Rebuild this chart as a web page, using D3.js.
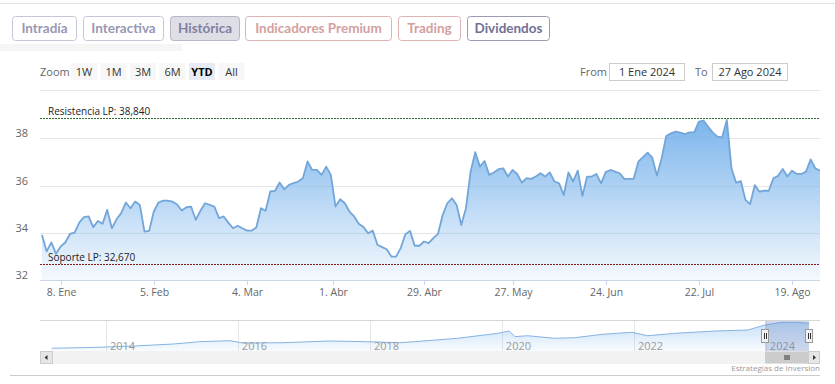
<!DOCTYPE html>
<html><head><meta charset="utf-8">
<script src="https://cdn.jsdelivr.net/npm/d3@7"></script>
<style>body{margin:0;background:#fff;} svg{display:block}</style>
</head><body><svg id="c" width="835" height="384"></svg>
<script>
// ---------- DATA ----------
const tabs = ["Intradía","Interactiva","Histórica","Indicadores Premium","Trading","Dividendos"];
const zoomButtons = ["1W","1M","3M","6M","YTD","All"];
const fromText = "1 Ene 2024", toText = "27 Ago 2024";
const startDate = "2024-01-02", endDate = "2024-08-27";
const holidays = ["2024-01-01","2024-03-29","2024-04-01","2024-05-01"];
const prices = [
 33.91,33.21,33.59,33.11,33.42,33.59,33.95,34.01,34.43,34.66,
 34.69,34.24,34.50,34.38,34.97,34.19,34.57,34.83,35.28,35.04,
 35.32,35.18,34.05,34.08,34.90,35.28,35.36,35.36,35.32,35.20,
 34.94,35.08,35.11,34.55,34.93,35.25,35.18,35.11,34.62,34.69,
 34.43,34.19,34.30,34.19,34.09,34.09,34.22,35.04,34.93,35.75,
 35.77,36.13,35.84,36.03,36.10,36.17,36.31,37.02,36.66,36.66,
 36.45,36.80,36.45,35.11,35.42,35.25,34.90,34.69,34.38,34.24,
 33.98,34.09,33.49,33.39,33.30,32.99,32.99,33.35,33.94,34.08,
 33.45,33.45,33.63,33.56,33.77,33.95,34.75,35.25,35.46,35.18,
 34.33,35.04,36.59,37.41,36.80,37.04,36.45,36.55,36.69,36.73,
 36.38,36.66,36.49,36.12,36.31,36.28,36.38,36.52,36.38,36.56,
 36.17,36.09,35.60,36.56,36.17,36.63,35.56,36.38,36.38,36.49,
 36.09,36.57,36.66,36.59,36.52,36.28,36.28,36.28,37.01,37.20,
 37.39,37.18,36.42,37.15,38.10,38.21,38.28,38.24,38.18,38.25,
 38.25,38.71,38.75,38.49,38.24,38.07,38.04,38.78,36.73,36.12,
 36.19,35.39,35.21,36.02,35.74,35.78,35.78,36.31,36.41,36.70,
 36.38,36.63,36.49,36.49,36.59,37.11,36.73,36.63
];
const tickDates = ["2024-01-08","2024-02-05","2024-03-04","2024-04-01","2024-04-29","2024-05-27","2024-06-24","2024-07-22","2024-08-19"];
const tickLabels = ["8. Ene","5. Feb","4. Mar","1. Abr","29. Abr","27. May","24. Jun","22. Jul","19. Ago"];
const yTicks = [32,34,36,38];
const resistance = 38.84, support = 32.67;
const resistanceLabel = "Resistencia LP: 38,840";
const supportLabel = "Soporte LP: 32,670";
const navDates = ["2013-03-07","2013-11-28","2014-07-08","2015-01-08","2015-06-03","2015-11-17","2016-01-30","2016-09-06","2017-05-22","2017-12-13","2018-06-14","2018-09-06","2019-05-01","2019-12-08","2020-02-10","2020-03-14","2020-05-22","2020-10-20","2021-02-10","2021-07-08","2021-12-20","2022-03-18","2022-08-15","2023-03-26","2023-09-24","2023-12-25","2024-03-28","2024-06-25","2024-08-27"];
const navValues = [3.5,4.8,6.8,9.0,12.0,13.3,10.3,10.7,12.9,12.0,10.7,12.0,16.4,22.8,25.8,18.5,19.7,16.4,17.2,21.5,24.1,19.7,22.8,25.8,27.1,33.5,37.0,37.0,35.8];
const navYears = [2014,2016,2018,2020,2022,2024];
const creditText = "Estrategias de Inversion";

// ---------- SETUP ----------
const svg = d3.select("#c");
const font = "'Open Sans', sans-serif";
const parse = d3.utcParse("%Y-%m-%d"), fmt = d3.utcFormat("%Y-%m-%d");
const days = d3.utcDays(parse(startDate), d3.utcDay.offset(parse(endDate), 1))
  .filter(d => d.getUTCDay() % 6 !== 0 && !holidays.includes(fmt(d)));

const plot = {left: 40, right: 820, top: 95, bottom: 280};
const x = d3.scaleLinear().domain([0, days.length - 1]).range([42, 820]);
const y = d3.scaleLinear().domain([32, 38]).range([280, 138.3]);

function ordIdx(s) {
  const t = parse(s);
  const i = d3.bisector(d => d).left(days, t);
  if (i < days.length && +days[i] === +t) return i;
  return i - 0.5;
}

// top decorative line
svg.append("rect").attr("x",0).attr("y",44).attr("width",182).attr("height",7).attr("fill","#f5f5f5");
svg.append("line").attr("x1",0).attr("x2",835).attr("y1",3.5).attr("y2",3.5).attr("stroke","#e2e2e2");

// ---------- TABS ----------
const tabX = [[12,76],[83,163],[170,239],[245,391],[398,460],[467,549]];
const tabStyle = [
  {fill:"#fff", stroke:"#c6c6d6", text:"#9898b4"},
  {fill:"#fff", stroke:"#c6c6d6", text:"#9898b4"},
  {fill:"#dedee6", stroke:"#b6b6c6", text:"#8080a0"},
  {fill:"#fff", stroke:"#dcb4b4", text:"#d4a0a0"},
  {fill:"#fff", stroke:"#dcb4b4", text:"#d4a0a0"},
  {fill:"#fff", stroke:"#9a9ab2", text:"#707094"}
];
const tg = svg.append("g");
tabs.forEach((t, i) => {
  const [a, b] = tabX[i];
  tg.append("rect").attr("x", a + 0.5).attr("y", 16.5).attr("width", b - a).attr("height", 24)
    .attr("rx", 3).attr("fill", tabStyle[i].fill).attr("stroke", tabStyle[i].stroke);
  tg.append("text").attr("x", (a + b) / 2 + 0.5).attr("y", 33).attr("text-anchor", "middle")
    .attr("font-family", "Lato, sans-serif").attr("font-weight", 700).attr("font-size", 13.5)
    .attr("fill", tabStyle[i].text).text(t);
});

// ---------- RANGE SELECTOR ----------
svg.append("text").attr("x", 40).attr("y", 76).attr("font-family", font).attr("font-size", 11)
  .attr("fill", "#666").text("Zoom");
zoomButtons.forEach((b, i) => {
  const bx = 71 + i * 29.5;
  const sel = b === "YTD";
  svg.append("rect").attr("x", bx).attr("y", 63).attr("width", 26).attr("height", 17)
    .attr("fill", sel ? "#e6ebf5" : "#f7f7f7");
  svg.append("text").attr("x", bx + 13).attr("y", 75.5).attr("text-anchor", "middle")
    .attr("font-family", font).attr("font-size", 11).attr("font-weight", sel ? 700 : 400)
    .attr("fill", sel ? "#000" : "#333").text(b);
});
svg.append("text").attr("x", 580).attr("y", 76).attr("font-family", font).attr("font-size", 11)
  .attr("fill", "#666").text("From");
svg.append("rect").attr("x", 609.5).attr("y", 63.5).attr("width", 75).attr("height", 17)
  .attr("fill", "#fff").attr("stroke", "#ccc");
svg.append("text").attr("x", 647).attr("y", 76).attr("text-anchor", "middle").attr("font-family", font)
  .attr("font-size", 11).attr("fill", "#333").text(fromText);
svg.append("text").attr("x", 695).attr("y", 76).attr("font-family", font).attr("font-size", 11)
  .attr("fill", "#666").text("To");
svg.append("rect").attr("x", 712.5).attr("y", 63.5).attr("width", 75).attr("height", 17)
  .attr("fill", "#fff").attr("stroke", "#ccc");
svg.append("text").attr("x", 750).attr("y", 76).attr("text-anchor", "middle").attr("font-family", font)
  .attr("font-size", 11).attr("fill", "#333").text(toText);
svg.append("line").attr("x1", 40).attr("x2", 820).attr("y1", 90.5).attr("y2", 90.5).attr("stroke", "#e6e6e6");

// ---------- MAIN PLOT ----------
const defs = svg.append("defs");
defs.append("clipPath").attr("id", "clip").append("rect")
  .attr("x", plot.left).attr("y", plot.top).attr("width", plot.right - plot.left).attr("height", plot.bottom - plot.top);
const grad = defs.append("linearGradient").attr("id", "ag").attr("gradientUnits", "userSpaceOnUse")
  .attr("x1", 0).attr("x2", 0).attr("y1", y(d3.max(prices))).attr("y2", 280);
grad.append("stop").attr("offset", 0).attr("stop-color", "#7cb5ec").attr("stop-opacity", 1);
grad.append("stop").attr("offset", 1).attr("stop-color", "#7cb5ec").attr("stop-opacity", 0.08);

// grid
svg.append("g").selectAll("line").data(yTicks.filter(v => v !== 32)).join("line")
  .attr("x1", plot.left).attr("x2", plot.right)
  .attr("y1", d => Math.round(y(d)) + 0.5).attr("y2", d => Math.round(y(d)) + 0.5)
  .attr("stroke", "#e6e6e6");
svg.append("g").selectAll("text").data(yTicks).join("text")
  .attr("x", 28).attr("y", d => y(d) - 1).attr("text-anchor", "end")
  .attr("font-family", font).attr("font-size", 11).attr("fill", "#666").text(d => d);

const pg = svg.append("g").attr("clip-path", "url(#clip)");
const area = d3.area().x((d, i) => x(i)).y0(280).y1(d => y(d));
const line = d3.line().x((d, i) => x(i)).y(d => y(d));
pg.append("path").datum(prices).attr("d", area).attr("fill", "url(#ag)");
pg.append("path").datum(prices).attr("d", line).attr("fill", "none")
  .attr("stroke", "#72a6d9").attr("stroke-width", 1.8).attr("stroke-linejoin", "round");

// x axis
svg.append("line").attr("x1", plot.left).attr("x2", plot.right).attr("y1", 280.5).attr("y2", 280.5).attr("stroke", "#ccd6eb");
const xt = svg.append("g");
tickDates.forEach((d, i) => {
  const px = Math.round(x(ordIdx(d))) + 0.5;
  xt.append("line").attr("x1", px).attr("x2", px).attr("y1", 280).attr("y2", 285).attr("stroke", "#ccd6eb");
  xt.append("text").attr("x", px).attr("y", 296).attr("text-anchor", "middle")
    .attr("font-family", font).attr("font-size", 10.5).attr("fill", "#666").text(tickLabels[i]);
});

// resistance / support
svg.append("line").attr("x1", plot.left).attr("x2", plot.right)
  .attr("y1", Math.round(y(resistance)) + 0.5).attr("y2", Math.round(y(resistance)) + 0.5)
  .attr("stroke", "#2f6b2f").attr("stroke-dasharray", "2,1");
svg.append("text").attr("x", 48).attr("y", y(resistance) - 3).attr("font-family", font)
  .attr("font-size", 10).attr("fill", "#222").text(resistanceLabel);
svg.append("line").attr("x1", plot.left).attr("x2", plot.right)
  .attr("y1", Math.round(y(support)) + 0.5).attr("y2", Math.round(y(support)) + 0.5)
  .attr("stroke", "#8b1a1a").attr("stroke-dasharray", "2,1");
svg.append("text").attr("x", 48).attr("y", y(support) - 3).attr("font-family", font)
  .attr("font-size", 10).attr("fill", "#222").text(supportLabel);

// ---------- NAVIGATOR ----------
const nav = {top: 320, bottom: 351};
const xn = d3.scaleUtc().domain([parse("2013-01-01"), parse("2025-01-01")]).range([40, 832]);
const yn = d3.scaleLinear().domain([0, 40]).range([351, 320]);
const ng = svg.append("g");
navYears.forEach(yr => {
  const px = Math.round(xn(parse(yr + "-01-01"))) + 0.5;
  ng.append("line").attr("x1", px).attr("x2", px).attr("y1", nav.top).attr("y2", nav.bottom).attr("stroke", "#e6e6e6");
});
const navData = navDates.map((d, i) => ({t: parse(d), v: navValues[i]}));
const ngrad = defs.append("linearGradient").attr("id", "ng").attr("gradientUnits", "userSpaceOnUse")
  .attr("x1", 0).attr("x2", 0).attr("y1", 320).attr("y2", 351);
ngrad.append("stop").attr("offset", 0).attr("stop-color", "#7cb5ec").attr("stop-opacity", 0.45);
ngrad.append("stop").attr("offset", 1).attr("stop-color", "#7cb5ec").attr("stop-opacity", 0.05);
ng.append("path").datum(navData)
  .attr("d", d3.area().x(d => xn(d.t)).y0(nav.bottom).y1(d => yn(d.v)))
  .attr("fill", "url(#ng)");
ng.append("path").datum(navData)
  .attr("d", d3.line().x(d => xn(d.t)).y(d => yn(d.v)))
  .attr("fill", "none").attr("stroke", "#86b4e2").attr("stroke-width", 1);
navYears.forEach(yr => {
  const px = xn(parse(yr + "-01-01"));
  ng.append("text").attr("x", px + 4).attr("y", 349.5).attr("font-family", font).attr("font-size", 11)
    .attr("fill", "#999").text(yr);
});
const m0 = xn(parse(startDate)) - 1, m1 = xn(parse(endDate));
ng.append("rect").attr("x", m0).attr("y", nav.top).attr("width", m1 - m0).attr("height", nav.bottom - nav.top)
  .attr("fill", "rgba(102,133,194,0.3)");
ng.append("line").attr("x1", 40).attr("x2", 820).attr("y1", 320.5).attr("y2", 320.5).attr("stroke", "#d6d6d6");
[m0, m1].forEach(hx => {
  const hxr = Math.round(hx);
  ng.append("rect").attr("x", hxr - 3.5).attr("y", 329.5).attr("width", 7).attr("height", 13)
    .attr("fill", "#f2f2f2").attr("stroke", "#999");
  ng.append("line").attr("x1", hxr - 0.5).attr("x2", hxr - 0.5).attr("y1", 333).attr("y2", 339).attr("stroke", "#333");
  ng.append("line").attr("x1", hxr + 1.5).attr("x2", hxr + 1.5).attr("y1", 333).attr("y2", 339).attr("stroke", "#333");
});
// scrollbar
ng.append("rect").attr("x", 40).attr("y", 351).attr("width", 780).attr("height", 13).attr("fill", "#f2f2f2");
ng.append("rect").attr("x", 40.5).attr("y", 351.5).attr("width", 12).attr("height", 12).attr("fill", "#e6e6e6").attr("stroke", "#ccc");
ng.append("rect").attr("x", 808.5).attr("y", 351.5).attr("width", 11).attr("height", 12).attr("fill", "#e6e6e6").attr("stroke", "#ccc");
ng.append("path").attr("d", "M47.5,355 L44.5,357.5 L47.5,360 Z").attr("fill", "#333");
ng.append("path").attr("d", "M813,355 L816,357.5 L813,360 Z").attr("fill", "#333");
ng.append("rect").attr("x", m0).attr("y", 351.5).attr("width", 808 - m0).attr("height", 12).attr("fill", "#cccccc");
const gc = (m0 + 808) / 2;
[-2, 0, 2].forEach(o => ng.append("line").attr("x1", gc + o + 0.5).attr("x2", gc + o + 0.5)
  .attr("y1", 355).attr("y2", 360).attr("stroke", "#333"));

// credits + bottom line
svg.append("text").attr("x", 820).attr("y", 371).attr("text-anchor", "end").attr("font-family", font)
  .attr("font-size", 8).attr("fill", "#999").text(creditText);
svg.append("line").attr("x1", 10).attr("x2", 820).attr("y1", 375.5).attr("y2", 375.5).attr("stroke", "#ccc");
</script></body></html>
